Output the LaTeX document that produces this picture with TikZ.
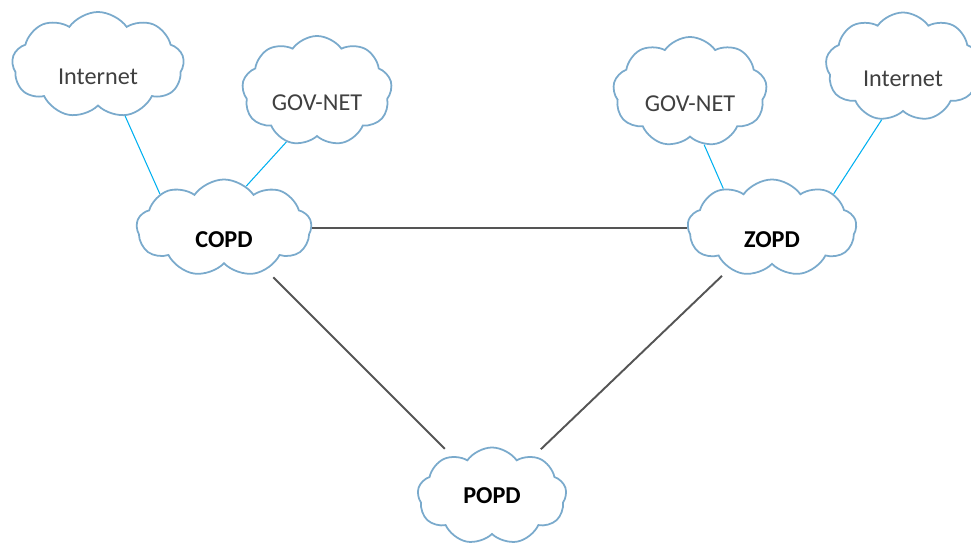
\documentclass[tikz,border=0pt]{standalone}
\usepackage{fontspec}
\setmainfont{Carlito}
\usetikzlibrary{shapes.symbols}

\definecolor{cloudline}{RGB}{122,170,204}
\definecolor{linkblue}{RGB}{0,176,240}
\definecolor{linkgray}{RGB}{85,85,85}
\definecolor{labelgray}{RGB}{64,64,64}

\tikzset{
  net/.style={cloud, cloud puffs=9, cloud puff arc=110, cloud ignores aspect, draw=cloudline, line width=1pt,
    fill=white, inner sep=0pt, font=\fontsize{13.8}{16}\selectfont},
  outer/.style={net, text=labelgray},
  site/.style={net, font=\fontsize{13.8}{16}\selectfont\bfseries},
  low/.style={text height=0.8cm, text depth=0.02cm},
  uplink/.style={linkblue, line width=0.6pt},
  trunk/.style={linkgray, line width=1.1pt, shorten <=0.2cm, shorten >=0.2cm}
}

\begin{document}
\begin{tikzpicture}
\useasboundingbox (0,0) rectangle (19.42,10.86);

\node[outer, low, minimum width=3.44cm, minimum height=2.12cm] (inetL) at (1.96, 9.56) {Internet};
\node[outer, low, minimum width=3.0cm, minimum height=2.2cm] (govL) at (6.34, 9.04) {GOV-NET};
\node[outer, low, minimum width=3.08cm, minimum height=2.2cm] (govR) at (13.8, 9.02) {GOV-NET};
\node[outer, low, minimum width=3.1cm, minimum height=2.18cm] (inetR) at (18.06, 9.52) {Internet};

\node[site, low, minimum width=3.5cm, minimum height=1.94cm] (copd) at (4.48, 6.3) {COPD};
\node[site, low, minimum width=3.38cm, minimum height=1.94cm] (zopd) at (15.44, 6.3) {ZOPD};
\node[site, minimum width=2.98cm, minimum height=1.94cm] (popd) at (9.84, 0.94) {POPD};

% links to outside networks
\draw[uplink] (inetL.-62) -- (copd.152);
\draw[uplink] (govL.-121) -- (copd.62);
\draw[uplink] (govR.-75) -- (zopd.141);
\draw[uplink] (inetR.-112) -- (zopd.29);

% backbone
\draw[linkgray, line width=1.1pt] (copd.east) -- (zopd.west);
\draw[trunk] (copd) -- (popd);
\draw[trunk] (zopd) -- (popd);
\end{tikzpicture}
\end{document}
